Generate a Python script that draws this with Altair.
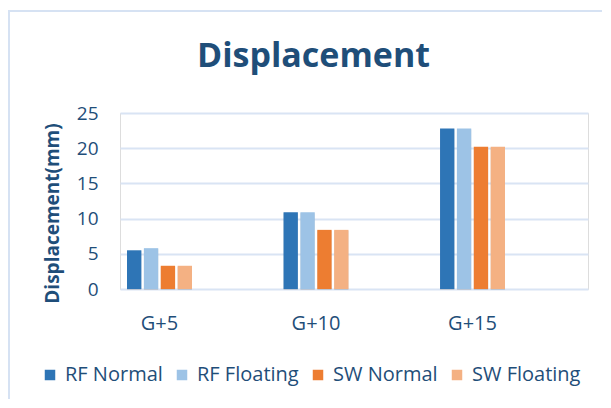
import altair as alt
import pandas as pd

categories = ["G+5", "G+10", "G+15"]
series = ["RF Normal", "RF Floating", "SW Normal", "SW Floating"]
rf_normal = [5.5, 10.9, 22.8]
rf_floating = [5.8, 10.9, 22.8]
sw_normal = [3.3, 8.4, 20.2]
sw_floating = [3.3, 8.4, 20.2]
colors = ["#2E75B6", "#9DC3E6", "#ED7D31", "#F4B183"]
y_ticks = [0, 5, 10, 15, 20, 25]
chart_title = "Displacement"

rows = []
for s, vals in zip(series, [rf_normal, rf_floating, sw_normal, sw_floating]):
    for c, v in zip(categories, vals):
        rows.append({"cat": c, "series": s, "value": v})
df = pd.DataFrame(rows)

TEXT = "#1F4E79"
FONT = "Open Sans"
GRID = "#D9E4F4"

x = alt.X(
    "cat:N", sort=categories, title=None,
    scale=alt.Scale(paddingInner=0.585, paddingOuter=0.2876, align=0.078),
    axis=alt.Axis(labelAngle=0, labelFontSize=20, labelFont=FONT, labelColor=TEXT,
                  labelPadding=24, ticks=False, tickSize=0, domain=False, grid=False),
)
xo = alt.XOffset("series:N", sort=series, scale=alt.Scale(paddingInner=0.15, paddingOuter=0))
y = alt.Y(
    "value:Q",
    scale=alt.Scale(domain=[0, 25], nice=False),
    axis=alt.Axis(values=y_ticks, title="Displacement(mm)", titleFont=FONT, titleFontSize=19,
                  titleFontWeight="bold", titleColor=TEXT, titleX=-68, titleY=100,
                  titleAngle=-90, titleAlign="center", titleBaseline="middle",
                  labelFont=FONT, labelFontSize=19, labelColor=TEXT, labelPadding=22,
                  ticks=False, tickSize=0, domain=False, grid=True, gridColor=GRID,
                  gridWidth=2),
)

base = alt.Chart(df)

shadow = base.mark_bar(color="#000000", opacity=0.13, xOffset=2, yOffset=1).encode(
    x=x, xOffset=xo, y=y
)

bars = base.mark_bar().encode(
    x=x, xOffset=xo, y=y,
    color=alt.Color(
        "series:N", sort=series,
        scale=alt.Scale(domain=series, range=colors),
        legend=alt.Legend(
            title=None, orient="none", direction="horizontal", legendX=-80, legendY=252,
            symbolType="square", symbolSize=110, symbolStrokeWidth=0, symbolOpacity=1,
            labelFont=FONT, labelFontSize=20, labelColor=TEXT, labelOffset=5,
            columnPadding=9, padding=0,
        ),
    ),
)

one = alt.Data(values=[{"t": chart_title}])
border_h = alt.Chart(one).mark_rule(color="#D6E2F3", strokeWidth=2).encode(
    x=alt.value(-111), x2=alt.value(600), y=alt.value(-102)
)
border_v = alt.Chart(one).mark_rule(color="#D6E2F3", strokeWidth=2).encode(
    x=alt.value(-111), y=alt.value(-103), y2=alt.value(400)
)
title = alt.Chart(one).mark_text(
    font=FONT, fontSize=34, fontWeight="bold", color=TEXT, align="center",
    baseline="alphabetic",
).encode(x=alt.value(193.5), y=alt.value(-46), text="t:N")

chart = alt.layer(border_h, border_v, title, shadow, bars).properties(
    width=468, height=176,
    padding={"left": 112, "top": 105, "right": 14, "bottom": 110},
    autosize=alt.AutoSizeParams(type="none"),
).configure_view(stroke=None).configure(background="white")

chart.save("out.html", embed_options={"renderer": "svg", "actions": False})
